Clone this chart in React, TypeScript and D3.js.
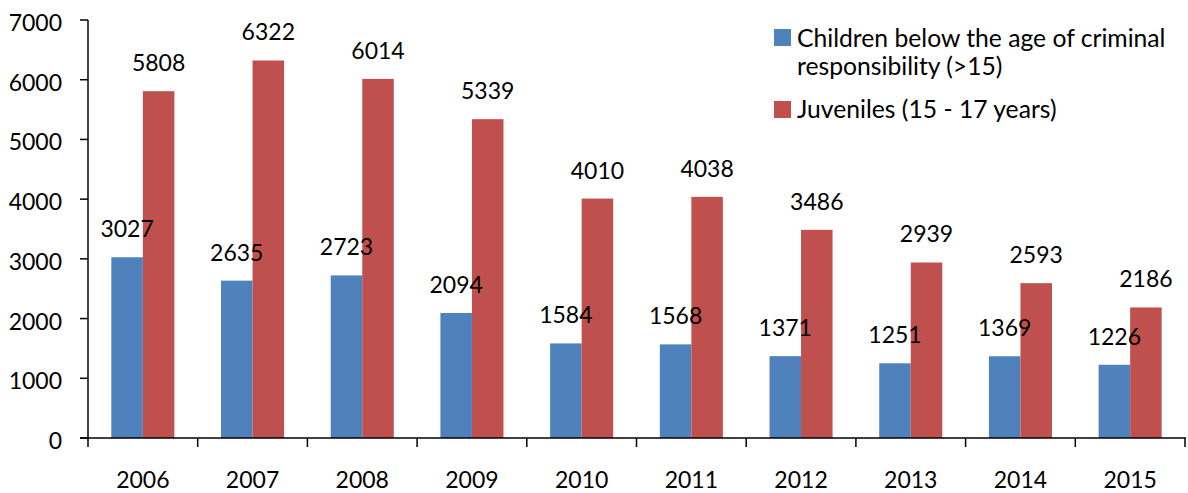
import React from "react";
import * as d3 from "d3";

const years = ["2006", "2007", "2008", "2009", "2010", "2011", "2012", "2013", "2014", "2015"];
const children = [3027, 2635, 2723, 2094, 1584, 1568, 1371, 1251, 1369, 1226];
const juveniles = [5808, 6322, 6014, 5339, 4010, 4038, 3486, 2939, 2593, 2186];
const yTicks = [0, 1000, 2000, 3000, 4000, 5000, 6000, 7000];
const seriesNames = ["Children below the age of criminal responsibility (>15)", "Juveniles (15 - 17 years)"];
const colors = ["#4F81BD", "#C0504D"];

const W = 1188;
const H = 493;
const FONT = "Lato, 'Open Sans', sans-serif";

export default function App() {
  const x = d3.scaleBand<string>().domain(years).range([88, 1185]).paddingInner(0).paddingOuter(0);
  const sub = d3.scaleBand<string>().domain(["c", "j"]).range([0, x.bandwidth()]).paddingInner(0).paddingOuter(0.74);
  const y = d3.scaleLinear().domain([0, 7000]).range([438, 20]);
  const series = [
    { key: "c", values: children, color: colors[0] },
    { key: "j", values: juveniles, color: colors[1] },
  ];
  const bounds = [...years.map((yr) => x(yr) as number), 1185];

  return (
    <div style={{ position: "absolute", left: 0, top: 0 }}>
      <svg width={W} height={H} style={{ display: "block", background: "#fff" }} fontFamily={FONT}>
        {series.map((s) =>
          s.values.map((v, i) => {
            const bx = (x(years[i]) as number) + (sub(s.key) as number);
            return (
              <rect key={s.key + i} x={bx} y={y(v)} width={sub.bandwidth()} height={y(0) - y(v)} fill={s.color} />
            );
          })
        )}
        {/* axes */}
        <line x1={88} x2={88} y1={y(7000)} y2={y(0)} stroke="#000" strokeWidth={1.5} />
        <line x1={80} x2={1186} y1={y(0)} y2={y(0)} stroke="#000" strokeWidth={1.5} />
        {yTicks.map((t) => (
          <g key={t}>
            <line x1={80} x2={88} y1={y(t)} y2={y(t)} stroke="#000" strokeWidth={1.5} />
            <text x={62} y={y(t) + 11} textAnchor="end" fontSize={23} fill="#000">
              {t}
            </text>
          </g>
        ))}
        {bounds.map((b, i) => (
          <line key={"xt" + i} x1={b} x2={b} y1={y(0)} y2={y(0) + 9} stroke="#000" strokeWidth={1.5} />
        ))}
        {years.map((yr) => (
          <text key={yr} x={(x(yr) as number) + x.bandwidth() / 2} y={488} textAnchor="middle" fontSize={23} fill="#000">
            {yr}
          </text>
        ))}
        {/* value labels */}
        {series.map((s) =>
          s.values.map((v, i) => {
            const cx = (x(years[i]) as number) + (sub(s.key) as number) + sub.bandwidth() / 2;
            return (
              <text key={"l" + s.key + i} x={cx} y={y(v) - 20} textAnchor="middle" fontSize={23} fill="#000">
                {v}
              </text>
            );
          })
        )}
        {/* legend */}
        <rect x={774} y={29} width={17} height={17} fill={colors[0]} />
        <text x={797} y={47} fontSize={24.7} fill="#000">Children below the age of criminal</text>
        <text x={797} y={75} fontSize={24.7} fill="#000">responsibility (&gt;15)</text>
        <rect x={774} y={101} width={17} height={17} fill={colors[1]} />
        <text x={797} y={118} fontSize={24.7} fill="#000">{seriesNames[1]}</text>
      </svg>
    </div>
  );
}
